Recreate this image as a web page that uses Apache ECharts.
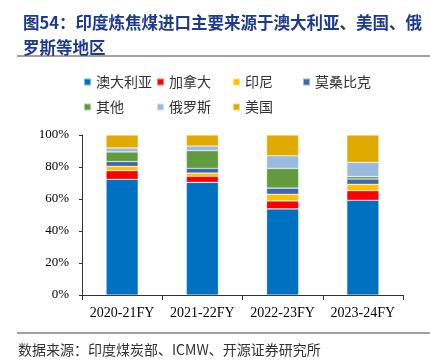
<!DOCTYPE html>
<html><head><meta charset="utf-8">
<script src="https://cdn.jsdelivr.net/npm/echarts@6/dist/echarts.min.js"></script>
<style>html,body{margin:0;padding:0;background:#fff}#c{width:430px;height:364px}</style>
</head><body><div id="c"></div>
<script>
const categories = ['2020-21FY','2021-22FY','2022-23FY','2023-24FY'];
const seriesNames = ['澳大利亚','加拿大','印尼','莫桑比克','其他','俄罗斯','美国'];
const australia  = [72.3, 70.4, 53.8, 59.2];
const canada     = [5.4, 3.8, 5.0, 6.0];
const indonesia  = [2.7, 2.0, 4.2, 4.0];
const mozambique = [3.0, 3.0, 3.8, 3.3];
const other      = [6.0, 11.0, 12.3, 1.5];
const russia     = [2.5, 2.9, 7.9, 8.9];
const usa        = [8.1, 6.9, 13.0, 17.1];
const yTicks = ['0%','20%','40%','60%','80%','100%'];

const values = [australia, canada, indonesia, mozambique, other, russia, usa];
const colors = ['#0070C0','#FF0000','#FFC000','#4066B0','#629A3E','#9BBAE0','#E0AA00'];
const legendPos = [[83,75],[156,75],[232,75],[302,75],[83,100],[156,100],[232,100]];

const chart = echarts.init(document.getElementById('c'));
const cjk = '"Noto Sans CJK SC", sans-serif';
chart.setOption({
  animation: false,
  color: colors,
  title: {
    text: '图54：印度炼焦煤进口主要来源于澳大利亚、美国、俄\n罗斯等地区',
    left: 18, top: 5,
    textStyle: {fontFamily: cjk, fontSize: 16.5, fontWeight: 'bold', color: '#1E3A8C', lineHeight: 25}
  },
  graphic: [
    {type: 'line', shape: {x1: 17, y1: 56, x2: 430, y2: 56}, style: {stroke: '#808080', lineWidth: 1.5}},
    {type: 'line', shape: {x1: 17, y1: 333, x2: 430, y2: 333}, style: {stroke: '#808080', lineWidth: 1.5}},
    {type: 'text', left: 18, top: 343, style: {text: '数据来源：印度煤炭部、ICMW、开源证券研究所', font: '14px "Noto Sans CJK SC"', fill: '#333'}}
  ],
  legend: seriesNames.map((n, i) => ({
    data: [n], left: legendPos[i][0], top: legendPos[i][1],
    icon: 'rect', itemWidth: 7, itemHeight: 7, itemGap: 0,
    textStyle: {fontFamily: cjk, fontSize: 14, color: '#333'}, selectedMode: false, padding: 0
  })),
  grid: {left: 82, right: 27, top: 135, bottom: 69},
  xAxis: {
    type: 'category', data: categories,
    axisLine: {lineStyle: {color: '#333'}},
    axisTick: {show: true, length: 5, lineStyle: {color: '#333'}},
    axisLabel: {interval: 0, fontFamily: '"Liberation Serif", serif', fontSize: 14, color: '#000', margin: 11}
  },
  yAxis: {
    type: 'value', min: 0, max: 100, interval: 20,
    axisLine: {show: true, lineStyle: {color: '#333'}},
    axisTick: {show: true, length: 3, lineStyle: {color: '#333'}},
    splitLine: {show: false},
    axisLabel: {fontFamily: '"Liberation Serif", serif', fontSize: 13, color: '#000', margin: 13,
      formatter: v => yTicks[v / 20]}
  },
  series: seriesNames.map((n, i) => ({
    name: n, type: 'bar', stack: 'total', data: values[i], barWidth: '40%',
    itemStyle: {color: colors[i], borderColor: 'rgba(255,255,255,0.5)', borderWidth: 0.6}
  }))
});
</script></body></html>
